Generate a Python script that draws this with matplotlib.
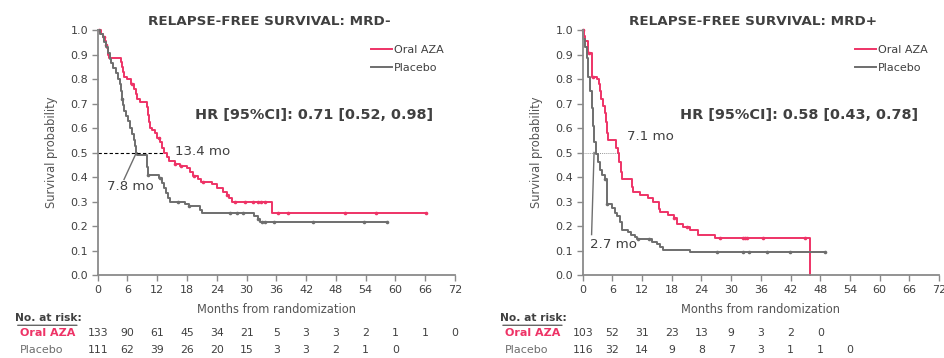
import numpy as np
import matplotlib
matplotlib.use("Agg")
import matplotlib.pyplot as plt

RED = '#EE3366'
GRAY = '#6E6E6E'
TXT = '#404040'
AX = '#8A8A8A'

months_ticks = list(range(0, 73, 6))

# --- MRD- panel -------------------------------------------------------------
neg_aza_t = [0, 0.6, 1.0, 1.4, 1.6, 1.8, 2.0, 2.2, 4.6, 4.8, 5.0, 5.3, 6.0, 6.8,
             7.3, 7.8, 8.0, 8.5, 10.0, 10.1, 10.3, 10.5, 11.0, 11.5, 12.0, 12.5,
             13.0, 13.4, 14.0, 14.3, 15.5, 16.5, 18.0, 18.6, 19.3, 20.3, 20.8,
             23.0, 24.0, 25.3, 26.0, 26.5, 27.0, 35.2, 66.1]
neg_aza_s = [1.0, 0.985, 0.97, 0.955, 0.94, 0.925, 0.90, 0.885, 0.87, 0.85, 0.83,
             0.81, 0.80, 0.78, 0.76, 0.74, 0.72, 0.705, 0.685, 0.655, 0.625, 0.60,
             0.59, 0.58, 0.56, 0.545, 0.52, 0.50, 0.48, 0.465, 0.455, 0.445, 0.435,
             0.42, 0.405, 0.39, 0.38, 0.37, 0.355, 0.34, 0.325, 0.315, 0.30, 0.255,
             0.255]
neg_aza_cens = [0.3, 1.2, 1.7, 7.0, 12.3, 15.6, 16.8, 19.4, 21.2, 26.0, 27.6, 29.6,
                31.3, 32.3, 33.0, 33.7, 36.3, 38.3, 49.9, 56.1, 66.1]

neg_pbo_t = [0, 0.5, 1.0, 1.3, 1.6, 2.0, 2.4, 2.6, 3.1, 3.7, 4.0, 4.4, 4.6, 4.8,
             5.0, 5.3, 5.7, 6.2, 6.6, 7.0, 7.3, 7.6, 7.8, 8.0, 10.0, 10.2, 12.4,
             12.9, 13.3, 13.7, 14.2, 14.6, 17.6, 18.3, 20.6, 21.1, 31.5, 32.2,
             32.7, 58.3]
neg_pbo_s = [1.0, 0.985, 0.97, 0.95, 0.93, 0.905, 0.88, 0.865, 0.845, 0.825, 0.80,
             0.78, 0.75, 0.72, 0.695, 0.67, 0.65, 0.63, 0.60, 0.575, 0.55, 0.525,
             0.50, 0.49, 0.44, 0.41, 0.395, 0.375, 0.355, 0.335, 0.315, 0.30, 0.29,
             0.28, 0.265, 0.254, 0.24, 0.23, 0.215, 0.215]
neg_pbo_cens = [4.8, 10.2, 12.6, 16.2, 18.4, 26.6, 28.0, 29.3, 32.3, 33.2, 33.7,
                35.5, 43.3, 53.6, 58.3]

neg_risk_aza = [133, 90, 61, 45, 34, 21, 5, 3, 3, 2, 1, 1, 0]
neg_risk_pbo = [111, 62, 39, 26, 20, 15, 3, 3, 2, 1, 0]
neg_median_aza = 13.4
neg_median_pbo = 7.8

# --- MRD+ panel -------------------------------------------------------------
pos_aza_t = [0, 0.3, 0.5, 1.1, 1.8, 2.8, 3.2, 3.5, 3.8, 4.2, 4.5, 4.8, 5.0, 5.2,
             6.8, 7.1, 7.4, 7.7, 7.9, 10.0, 10.2, 11.5, 13.2, 14.3, 15.5, 15.7,
             17.3, 18.5, 19.0, 20.3, 21.7, 23.3, 26.7, 45.9]
pos_aza_s = [1.0, 0.975, 0.955, 0.905, 0.81, 0.80, 0.78, 0.75, 0.72, 0.69, 0.66,
             0.625, 0.58, 0.55, 0.52, 0.50, 0.46, 0.42, 0.39, 0.36, 0.34, 0.327,
             0.313, 0.30, 0.27, 0.258, 0.245, 0.232, 0.21, 0.197, 0.184, 0.163,
             0.15, 0.0]
pos_aza_cens = [0.0, 1.3, 2.0, 18.5, 21.0, 27.7, 32.4, 32.8, 33.1, 36.5, 44.9]

pos_pbo_t = [0, 0.1, 0.4, 0.8, 1.1, 1.5, 1.8, 2.1, 2.3, 2.7, 3.0, 3.5, 4.0, 4.5,
             4.85, 6.0, 6.5, 7.0, 7.5, 7.9, 9.2, 9.8, 10.5, 11.0, 14.0, 15.0,
             15.6, 16.3, 21.7, 49.0]
pos_pbo_s = [1.0, 0.965, 0.93, 0.885, 0.81, 0.75, 0.68, 0.61, 0.545, 0.495, 0.46,
             0.43, 0.41, 0.39, 0.29, 0.275, 0.255, 0.24, 0.218, 0.184, 0.175,
             0.165, 0.155, 0.145, 0.135, 0.125, 0.115, 0.102, 0.092, 0.092]
pos_pbo_cens = [4.6, 5.0, 11.2, 13.3, 27.1, 32.3, 33.7, 37.2, 41.9, 49.0]

pos_risk_aza = [103, 52, 31, 23, 13, 9, 3, 2, 0]
pos_risk_pbo = [116, 32, 14, 9, 8, 7, 3, 1, 1, 0]
pos_median_aza = 7.1
pos_median_pbo = 2.7


def step_value(t, s, x):
    idx = np.searchsorted(t, x, side='right') - 1
    return np.asarray(s)[np.clip(idx, 0, len(s) - 1)]


def km_panel(ax, title, hr, aza, pbo, risk_aza, risk_pbo):
    for (t, s, c), col, lab in [(aza, RED, 'Oral AZA'), (pbo, GRAY, 'Placebo')]:
        ax.step(t, s, where='post', color=col, lw=1.4, label=lab, clip_on=False)
        ax.plot(c, step_value(t, s, c), 'o', color=col, ms=2.6, mew=0,
                clip_on=False)

    ax.set_xlim(0, 72)
    ax.set_ylim(0, 1.0)
    ax.set_xticks(months_ticks)
    ax.set_yticks(np.arange(0, 1.01, 0.1))
    ax.yaxis.set_major_formatter(matplotlib.ticker.FormatStrFormatter('%.1f'))
    for sp in ['top', 'right']:
        ax.spines[sp].set_visible(False)
    for sp in ['left', 'bottom']:
        ax.spines[sp].set_color(AX)
        ax.spines[sp].set_linewidth(1.3)
    ax.tick_params(colors=AX, labelcolor=TXT, labelsize=8, length=4, width=1,
                   pad=3)
    ax.set_xlabel('Months from randomization', fontsize=8.3, color='#555555',
                  labelpad=6)
    ax.set_ylabel('Survival probability', fontsize=8.3, color='#555555',
                  labelpad=9)

    ax.text(0.479, 1.034, title, transform=ax.transAxes, ha='center',
            va='center', fontsize=9.7, fontweight='bold', color=TXT)
    ax.text(0.273, 0.653, hr, transform=ax.transAxes, ha='left', va='center',
            fontsize=10.4, fontweight='bold', color=TXT)

    ax.legend(loc='upper left', bbox_to_anchor=(0.765, 0.94), frameon=False,
              fontsize=8, handlelength=1.9, handletextpad=0.15,
              labelspacing=0.7, borderpad=0, borderaxespad=0,
              labelcolor=TXT)

    # number at risk table
    tr = ax.get_xaxis_transform()
    ax.text(-16.7, -0.176, 'No. at risk:', transform=tr, ha='left', va='center',
            fontsize=7.7, fontweight='bold', color=TXT)
    ax.annotate('', xy=(-16.7, -0.205), xytext=(-3.6, -0.205), xycoords=tr,
                arrowprops=dict(arrowstyle='-', color=TXT, lw=0.8))
    ax.text(-15.7, -0.238, 'Oral AZA', transform=tr, ha='left', va='center',
            fontsize=8, fontweight='bold', color=RED)
    ax.text(-15.7, -0.306, 'Placebo', transform=tr, ha='left', va='center',
            fontsize=8, color=GRAY)
    for m, n in zip(months_ticks, risk_aza):
        ax.text(m, -0.238, str(n), transform=tr, ha='center', va='center',
                fontsize=7.8, color=TXT)
    for m, n in zip(months_ticks, risk_pbo):
        ax.text(m, -0.306, str(n), transform=tr, ha='center', va='center',
                fontsize=7.8, color=TXT)


fig = plt.figure(figsize=(9.45, 3.58), dpi=100)
ax1 = fig.add_axes([0.1034, 0.2318, 0.3781, 0.6843])
ax2 = fig.add_axes([0.6166, 0.2318, 0.3771, 0.6843])

km_panel(ax1, 'RELAPSE-FREE SURVIVAL: MRD-', 'HR [95%CI]: 0.71 [0.52, 0.98]',
         (neg_aza_t, neg_aza_s, neg_aza_cens), (neg_pbo_t, neg_pbo_s, neg_pbo_cens),
         neg_risk_aza, neg_risk_pbo)
km_panel(ax2, 'RELAPSE-FREE SURVIVAL: MRD+', 'HR [95%CI]: 0.58 [0.43, 0.78]',
         (pos_aza_t, pos_aza_s, pos_aza_cens), (pos_pbo_t, pos_pbo_s, pos_pbo_cens),
         pos_risk_aza, pos_risk_pbo)

# medians, left panel
ax1.plot([0, neg_median_aza], [0.5, 0.5], color='black', lw=0.8, ls=(0, (3, 2)))
ax1.text(neg_median_aza + 2.1, 0.505, f'{neg_median_aza} mo', fontsize=9.6,
         color=TXT, va='center')
ax1.plot([neg_median_pbo, 5.3], [0.5, 0.39], color=GRAY, lw=1)
ax1.text(1.9, 0.36, f'{neg_median_pbo} mo', fontsize=9.6, color=TXT,
         va='center')

# medians, right panel
ax2.plot([0, pos_median_aza], [0.5, 0.5], color=GRAY, lw=0.6, ls=(0, (1, 1.5)))
ax2.text(8.9, 0.565, f'{pos_median_aza} mo', fontsize=9.6, color=TXT,
         va='center')
ax2.plot([2.3, 1.8], [0.5, 0.165], color=GRAY, lw=1)
ax2.text(1.5, 0.125, f'{pos_median_pbo} mo', fontsize=9.6, color=TXT,
         va='center')

fig.savefig('out.png', dpi=100)
